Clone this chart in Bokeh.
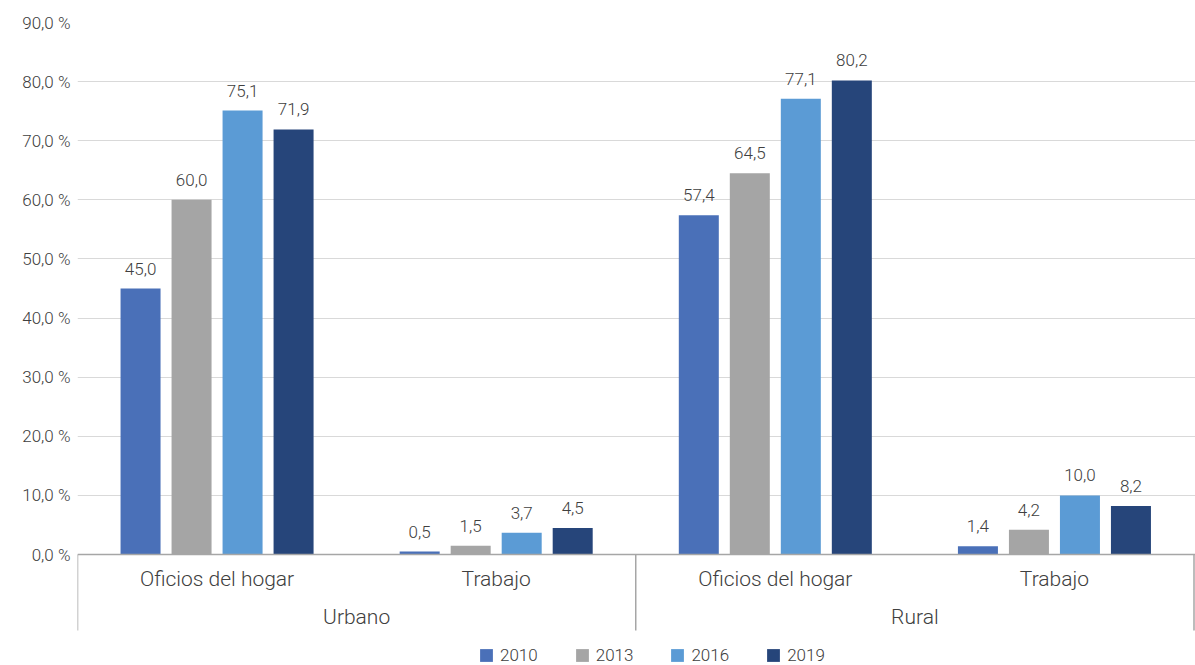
from bokeh.plotting import figure
from bokeh.models import Range1d, FixedTicker, Span, Legend, LegendItem, ColumnDataSource
from bokeh.core.properties import value
from bokeh.embed import file_html
from bokeh.resources import INLINE

# ---- data ----
groups = ["Urbano", "Rural"]
categories = ["Oficios del hogar", "Trabajo"]
years = ["2010", "2013", "2016", "2019"]
v2010 = [45.0, 0.5, 57.4, 1.4]
v2013 = [60.0, 1.5, 64.5, 4.2]
v2016 = [75.1, 3.7, 77.1, 10.0]
v2019 = [71.9, 4.5, 80.2, 8.2]
series = [v2010, v2013, v2016, v2019]
colors = ["#4a70b8", "#a5a5a5", "#5b9bd5", "#26457a"]
y_ticks = [0, 10, 20, 30, 40, 50, 60, 70, 80, 90]
y_tick_labels = ["0,0 %", "10,0 %", "20,0 %", "30,0 %", "40,0 %",
                 "50,0 %", "60,0 %", "70,0 %", "80,0 %", "90,0 %"]

FONT = value("Roboto Light, Roboto")
TXT = "#404040"
FS = "17px"

n_cat = len(groups) * len(categories)
cat_labels = [c for g in groups for c in categories]
cat_x = [i + 0.5 for i in range(n_cat)]
grp_x = [len(categories) * (j + 0.5) for j in range(len(groups))]
sep_x = [len(categories) * j for j in range(len(groups) + 1)]

px_per_unit = 532 / 90.0
y_bottom = -111 / px_per_unit

p = figure(width=1195, height=665, output_backend="svg", toolbar_location=None,
           x_range=Range1d(0, 4 + 1.5 / 279.1), y_range=Range1d(y_bottom, 90),
           x_axis_location=None, min_border_left=77, min_border_right=0,
           min_border_top=22, min_border_bottom=0)
p.outline_line_color = None
p.background_fill_color = "white"
p.border_fill_color = "white"

p.xgrid.visible = False
p.ygrid.ticker = FixedTicker(ticks=y_ticks[1:])
p.ygrid.grid_line_color = "#d9d9d9"
p.ygrid.grid_line_width = 1

ax = p.yaxis[0]
ax.ticker = FixedTicker(ticks=y_ticks)
ax.major_label_overrides = {t: l for t, l in zip(y_ticks, y_tick_labels)}
ax.axis_line_color = None
ax.major_tick_line_color = None
ax.minor_tick_line_color = None
ax.major_label_standoff = 1
ax.major_label_text_font = "Roboto Light, Roboto"
ax.major_label_text_font_size = FS
ax.major_label_text_color = TXT

pitch = 51 / 279.1
bw = 40 / 279.1
renderers = []
for k, (yr, vals, col) in enumerate(zip(years, series, colors)):
    xs = [c + (k - 1.5) * pitch for c in cat_x]
    src = ColumnDataSource(dict(x=xs, top=vals,
                                lab=[f"{v:.1f}".replace(".", ",") for v in vals]))
    r = p.vbar(x="x", top="top", bottom=0, width=bw, source=src,
               fill_color=col, line_color=None)
    renderers.append((yr, r))
    p.text(x="x", y="top", text="lab", source=src, text_align="center",
           text_baseline="alphabetic", y_offset=-20, text_font=FONT,
           text_font_size=FS, text_color=TXT)

p.add_layout(Span(location=0, dimension="width", line_color="#a6a6a6", line_width=1.5))

# category separators
p.segment(x0=sep_x, y0=[0] * len(sep_x), x1=sep_x, y1=[-76 / px_per_unit] * len(sep_x),
          line_color="#a6a6a6", line_width=1.5)

p.text(x=cat_x, y=[-24 / px_per_unit] * n_cat, text=cat_labels, text_align="center",
       text_baseline="alphabetic", text_font=FONT, text_font_size="21px", text_color=TXT)
p.text(x=grp_x, y=[-62 / px_per_unit] * len(groups), text=groups, text_align="center",
       text_baseline="alphabetic", text_font=FONT, text_font_size="21px", text_color=TXT)

legend = Legend(items=[LegendItem(label=yr, renderers=[r]) for yr, r in renderers],
                orientation="horizontal", location=(401, 0), padding=0, margin=0,
                spacing=36, glyph_width=16, glyph_height=16, label_height=16,
                label_standoff=6, label_text_font="Roboto Light, Roboto",
                label_text_font_size=FS, label_text_color=TXT,
                border_line_color=None, background_fill_alpha=0)
p.add_layout(legend)

open("out.html", "w").write(file_html(p, INLINE))
